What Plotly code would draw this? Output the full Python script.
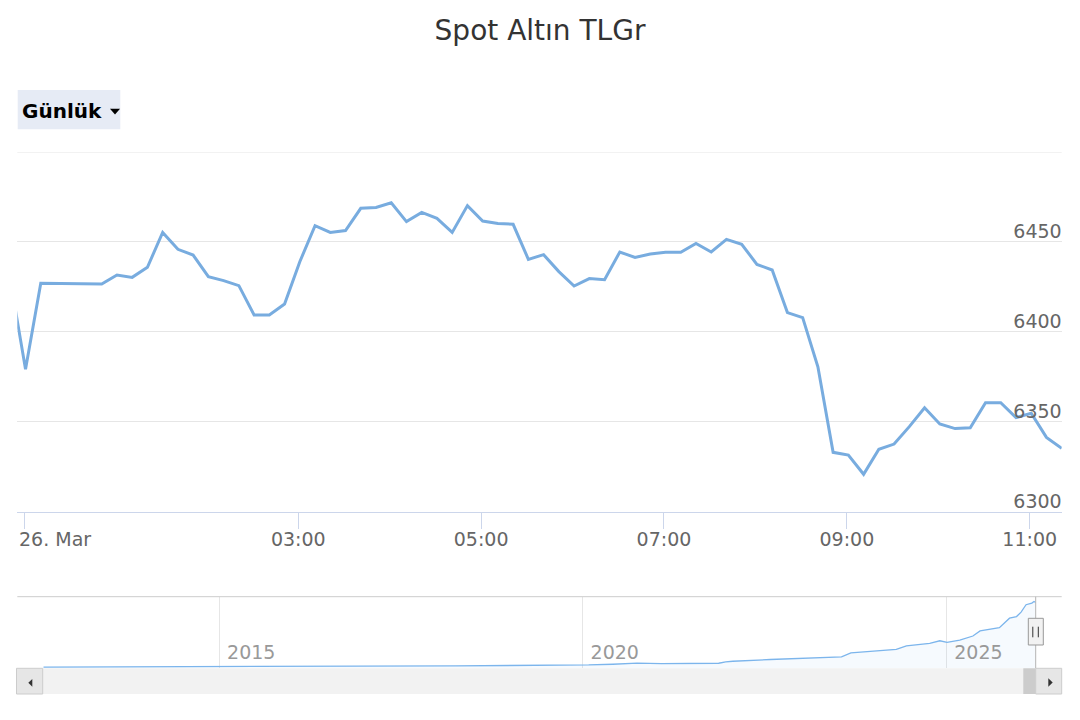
import pandas as pd
import plotly.graph_objects as go

# The page shows the figure 8 px in from the top-left corner (default body margin),
# so the figure is 1072x712 and screen pixels are mapped through OFF.
OFF = 8
W, H = 1080 - OFF, 720 - OFF


def fx(p):
    return (p - OFF) / W


def fy(p):
    return 1 - (p - OFF) / H


# ---------------- data ----------------
TITLE = "Spot Altın TLGr"
RANGE_LABEL = "Günlük"

start_time = "2026-03-25 23:51"
price_values = [
    6429.0, 6379.2, 6427.0, 6427.0, 6427.0, 6427.0, 6426.6, 6431.6, 6430.3, 6435.9,
    6455.3, 6445.9, 6442.7, 6430.7, 6428.5, 6425.7, 6409.4, 6409.4, 6415.5, 6439.0,
    6459.0, 6455.3, 6456.3, 6468.7, 6469.2, 6471.8, 6461.3, 6466.4, 6463.1, 6455.3,
    6470.2, 6461.6, 6460.3, 6459.8, 6440.3, 6442.9, 6433.5, 6425.5, 6429.6, 6429.0,
    6444.4, 6441.4, 6443.3, 6444.2, 6444.2, 6449.2, 6444.4, 6451.4, 6448.7, 6437.5,
    6434.4, 6410.7, 6407.9, 6380.6, 6333.0, 6331.5, 6320.8, 6334.7, 6337.6, 6347.3,
    6357.8, 6348.8, 6346.2, 6346.7, 6360.6, 6360.6, 6352.3, 6354.7, 6341.3, 6335.2,
]
price_times = pd.date_range(start_time, periods=len(price_values), freq="10min")

time_range = ["2026-03-25 23:55:36", "2026-03-26 11:21:00"]
time_tick_vals = ["2026-03-26 00:00", "2026-03-26 03:00", "2026-03-26 05:00",
                  "2026-03-26 07:00", "2026-03-26 09:00", "2026-03-26 11:00"]
time_tick_text = ["26. Mar", "03:00", "05:00", "07:00", "09:00", "11:00"]

price_range = [6300, 6500]
price_tick_vals = [6300, 6350, 6400, 6450, 6500]
price_tick_text = ["6300", "6350", "6400", "6450", ""]

nav_dates = [
    "2012-08-01 00:00", "2014-01-01 00:00", "2015-06-01 00:00", "2016-12-01 00:00",
    "2018-04-01 00:00", "2019-04-01 00:00", "2020-02-01 00:00", "2020-06-01 00:00",
    "2020-10-01 00:00", "2021-02-01 00:00", "2021-07-01 00:00", "2021-11-15 00:00",
    "2021-12-20 00:00", "2022-01-25 00:00", "2022-08-01 00:00", "2023-02-15 00:00",
    "2023-07-25 00:00", "2023-09-10 00:00", "2024-01-05 00:00", "2024-04-25 00:00",
    "2024-06-15 00:00", "2024-10-10 00:00", "2024-11-30 00:00", "2025-01-05 00:00",
    "2025-03-10 00:00", "2025-05-15 00:00", "2025-06-20 00:00", "2025-09-25 00:00",
    "2025-11-15 00:00", "2025-12-20 00:00", "2026-01-12 00:00", "2026-02-06 00:00",
    "2026-03-07 00:00", "2026-03-18 00:00", "2026-03-26 11:21",
]
nav_values = [
    117, 126, 156, 214, 233, 272,
    321, 389, 496, 447, 457, 486,
    622, 680, 846, 972, 1098, 1487,
    1652, 1818, 2168, 2401, 2654, 2498,
    2722, 3110, 3596, 3917, 4831, 4986,
    5414, 6124, 6289, 6444, 6335,
]
nav_range_y = [0, 6900]
nav_tick_vals = ["2015-01-01", "2020-01-01", "2025-01-01"]
nav_tick_text = ["2015", "2020", "2025"]

# ---------------- styling ----------------
FONT = "DejaVu Sans"
LINE_COLOR = "#78acdf"
GRID = "#e6e6e6"
AXIS = "#ccd6eb"

fig = go.Figure()

fig.add_trace(go.Scatter(
    x=price_times, y=price_values, mode="lines",
    line=dict(color=LINE_COLOR, width=3),
    xaxis="x", yaxis="y", hoverinfo="x+y",
))

fig.add_trace(go.Scatter(
    x=pd.to_datetime(nav_dates, format="%Y-%m-%d %H:%M"), y=nav_values, mode="lines",
    line=dict(color="#7cb5ec", width=1.3),
    fill="tozeroy", fillcolor="rgba(124,181,236,0.07)",
    xaxis="x2", yaxis="y2", hoverinfo="skip",
))

shapes = []


def rect(x0, y0, x1, y1, fill, line=None, lw=1):
    shapes.append(dict(type="rect", xref="paper", yref="paper",
                       x0=fx(x0), x1=fx(x1), y0=fy(y1), y1=fy(y0),
                       fillcolor=fill, layer="above",
                       line=dict(color=line or fill, width=lw if line else 0)))


def seg(x0, y0, x1, y1, color, w=1):
    shapes.append(dict(type="line", xref="paper", yref="paper",
                       x0=fx(x0), x1=fx(x1), y0=fy(y0), y1=fy(y1),
                       layer="above", line=dict(color=color, width=w)))


def tri(pts, color):
    path = "M " + " L ".join(f"{fx(a):.5f},{fy(b):.5f}" for a, b in pts) + " Z"
    shapes.append(dict(type="path", xref="paper", yref="paper", path=path,
                       fillcolor=color, line=dict(width=0), layer="above"))


# top grid line of the price panel (on the upper edge of the axis range)
shapes.append(dict(type="line", xref="x domain", yref="y",
                   x0=0, x1=1, y0=price_range[1], y1=price_range[1],
                   layer="below", line=dict(color=GRID, width=1)))
# navigator outline
seg(17.3, 596.7, 1061.7, 596.7, "#cccccc")
seg(1035.7, 596.7, 1035.7, 668.3, "#b3b3b3")
# scrollbar
rect(42.7, 668.3, 1035.7, 694.0, "#f2f2f2")
rect(1023.3, 668.3, 1035.7, 694.0, "#cccccc")
rect(16.5, 668.3, 42.7, 694.0, "#e6e6e6", "#cccccc")
rect(1035.7, 668.3, 1061.7, 694.0, "#e6e6e6", "#cccccc")
tri([(28.3, 682.8), (32.3, 679.0), (32.3, 686.7)], "#333333")
tri([(1052.7, 682.5), (1048.3, 678.3), (1048.3, 686.7)], "#333333")
# navigator handle
rect(1028.3, 618.3, 1043.3, 645.0, "#f2f2f2", "#999999")
seg(1032.8, 626.7, 1032.8, 637.3, "#333333")
seg(1038.3, 626.7, 1038.3, 637.3, "#333333")
# dropdown button background and caret
rect(17.7, 90.0, 120.3, 129.3, "#e6ebf5")
tri([(110.0, 108.7), (120.0, 108.7), (115.0, 114.5)], "#000000")

axis_common = dict(automargin=False, fixedrange=True, zeroline=False)

# the first time label is drawn left-aligned at its tick (as the original keeps it inside)
x_labels = [""] + time_tick_text[1:]

fig.update_layout(
    width=W, height=H,
    margin=dict(l=0, r=0, t=0, b=0, autoexpand=False),
    paper_bgcolor="white", plot_bgcolor="white",
    showlegend=False,
    font=dict(family=FONT, color="#666666"),
    title=dict(text=TITLE, x=fx(540), xanchor="center", xref="paper",
               y=fy(30), yanchor="middle", yref="paper",
               font=dict(family=FONT, size=28, color="#333333")),
    xaxis=dict(
        domain=[fx(17.3), fx(1061.7)], anchor="y", type="date",
        range=time_range, tickmode="array",
        tickvals=time_tick_vals, ticktext=x_labels,
        showgrid=False,
        showline=True, linecolor=AXIS, linewidth=1,
        ticks="outside", ticklen=16, tickcolor=AXIS, tickwidth=1,
        ticklabelstandoff=-6, ticklabeloverflow="allow",
        tickfont=dict(family=FONT, size=19, color="#666666"),
        **axis_common,
    ),
    yaxis=dict(
        domain=[fy(511.7), fy(152)], anchor="x", side="right",
        range=price_range, tickmode="array",
        tickvals=price_tick_vals, ticktext=price_tick_text,
        showgrid=True, gridcolor=GRID, gridwidth=1,
        showline=False, ticks="",
        ticklabelposition="inside top", ticklabelstandoff=-3,
        ticklabelshift=3, ticklabeloverflow="allow",
        tickfont=dict(family=FONT, size=19, color="#666666"),
        **axis_common,
    ),
    xaxis2=dict(
        domain=[fx(43.3), fx(1035.7)], anchor="y2", type="date",
        range=[nav_dates[0], nav_dates[-1]], tickmode="array",
        tickvals=nav_tick_vals, ticktext=nav_tick_text,
        showgrid=True, gridcolor=GRID, gridwidth=1,
        showline=False, ticks="",
        ticklabelposition="inside right", ticklabelshift=8,
        ticklabeloverflow="allow",
        tickfont=dict(family=FONT, size=19, color="#999999"),
        **axis_common,
    ),
    yaxis2=dict(
        domain=[fy(668.3), fy(596.7)], anchor="x2",
        range=nav_range_y, visible=False, **axis_common,
    ),
    shapes=shapes,
    annotations=[
        dict(
            text=f"<b>{RANGE_LABEL}</b>",
            xref="paper", yref="paper", x=fx(21.7), y=fy(110.7),
            xanchor="left", yanchor="middle", showarrow=False,
            borderpad=0, borderwidth=0, align="left",
            font=dict(family=FONT, size=20, color="#000000"),
        ),
        dict(
            text=time_tick_text[0],
            xref="x", yref="paper", x=time_tick_vals[0], y=fy(539),
            xanchor="left", yanchor="middle", xshift=-5, showarrow=False,
            borderpad=0, borderwidth=0,
            font=dict(family=FONT, size=19, color="#666666"),
        ),
    ],
)

fig.write_html("out.html", config={"displayModeBar": False})
